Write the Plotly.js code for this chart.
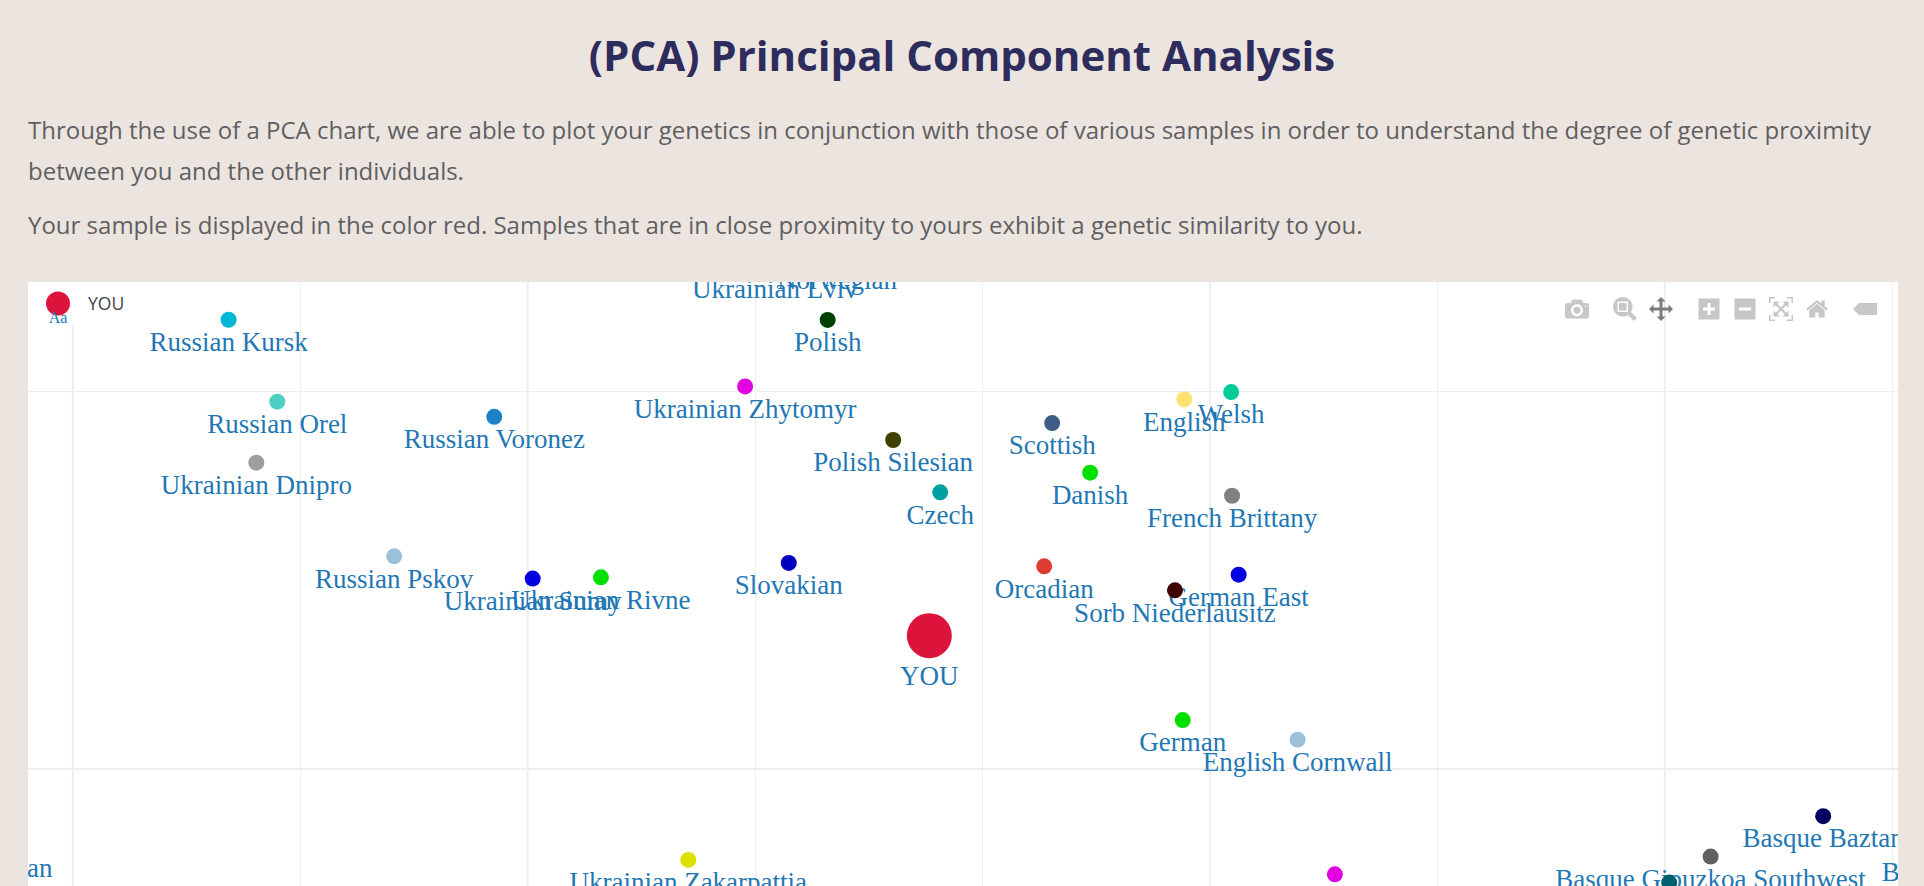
<!DOCTYPE html>
<html>
<head>
<meta charset="utf-8">
<script src="https://cdn.plot.ly/plotly-3.0.1.min.js"></script>
<style>
html,body{margin:0;padding:0;width:1924px;height:886px;overflow:hidden;background:#ece5df;font-family:"Open Sans",sans-serif}
h1{position:absolute;left:0;top:26px;width:1924px;margin:0;text-align:center;font-size:42px;line-height:58px;font-weight:700;color:#2e2c5c}
p{position:absolute;left:28px;width:1870px;margin:0;font-size:24px;line-height:41px;color:#5f5f62}
#p1{top:109px}
#p2{top:204px}
#chart{position:absolute;left:28px;top:282px;width:1870px;height:604px;background:#fff}
.modebar{transform:scale(1.5);transform-origin:top right;top:9px !important;right:15px !important}
</style>
</head>
<body>
<h1>(PCA) Principal Component Analysis</h1>
<p id="p1">Through the use of a PCA chart, we are able to plot your genetics in conjunction with those of various samples in order to understand the degree of genetic proximity between you and the other individuals.</p>
<p id="p2">Your sample is displayed in the color red. Samples that are in close proximity to yours exhibit a genetic similarity to you.</p>
<div id="chart"></div>
<script>
const youName = "YOU";
const youPC1 = -0.00234;
const youPC2 = 0.00706;
const youColor = "#dc143c";

const sampleNames = ["Russian Kursk","Russian Orel","Russian Voronez","Ukrainian Dnipro","Russian Pskov","Ukrainian Sumy","Ukrainian Rivne","Polish","Ukrainian Zhytomyr","Polish Silesian","Czech","Scottish","English","Welsh","Danish","French Brittany","Slovakian","Orcadian","German East","Sorb Niederlausitz","German","English Cornwall","Ukrainian Zakarpattia","Ukrainian Lviv","Norwegian","Lithuanian","Hungarian","Basque Baztan","Basque Gipuzkoa Southwest","Basque Gipuzkoa","Basque Bizkaia"];
const samplePC1 = [-0.03315,-0.03101,-0.02147,-0.03193,-0.02587,-0.01978,-0.01678,-0.00681,-0.01044,-0.00393,-0.00186,0.00306,0.00887,0.01093,0.00473,0.01097,-0.00852,0.00271,0.01126,0.00846,0.00880,0.01385,-0.01294,-0.00913,-0.00640,-0.04346,0.01549,0.03696,0.03201,0.03019,0.04324];
const samplePC2 = [0.02379,0.01945,0.01865,0.01622,0.01126,0.01008,0.01015,0.02378,0.02026,0.01742,0.01465,0.01832,0.01958,0.01996,0.01569,0.01447,0.01091,0.01073,0.01029,0.00946,0.00259,0.00155,-0.00482,0.02660,0.02706,-0.00408,-0.00558,-0.00250,-0.00464,-0.00602,-0.00429];
const sampleColors = ["#00b8d4","#4dd0c4","#1b82c6","#9e9e9e","#9cc0da","#0000e0","#00e000","#004000","#e000e0","#404000","#00a0a0","#3e5c86","#ffe070","#00cc99","#00e000","#808080","#0000c0","#dc3c32","#0000e0","#400000","#00e000","#9cc0da","#e0e000","#808000","#006060","#606000","#e000e0","#000060","#606060","#006070","#404040"];

const boldGridX = [-0.04,-0.02,0.01,0.03];
const boldGridY = [0];
const rangeX = [-0.04197,0.04025];
const rangeY = [-0.00620,0.02579];

const labelFont = {family:'"Liberation Serif","Times New Roman",serif',size:27,color:"#1f77b4"};

const traces = [{
  x:[youPC1],y:[youPC2],text:[youName],name:youName,mode:"markers+text",type:"scatter",
  textposition:"bottom center",textfont:labelFont,marker:{size:45,color:youColor},showlegend:true
}].concat(sampleNames.map((n,i)=>({
  x:[samplePC1[i]],y:[samplePC2[i]],text:[n],name:n,mode:"markers+text",type:"scatter",
  textposition:"bottom center",textfont:labelFont,marker:{size:16,color:sampleColors[i]},showlegend:false
})));

const shapes = boldGridX.map(v=>({type:"line",layer:"below",xref:"x",yref:"paper",x0:v,x1:v,y0:0,y1:1,line:{color:"#eeeeee",width:2}}))
 .concat(boldGridY.map(v=>({type:"line",layer:"below",xref:"paper",yref:"y",x0:0,x1:1,y0:v,y1:v,line:{color:"#eeeeee",width:2}})));

const layout = {
  width:1870,height:604,margin:{l:0,r:0,t:0,b:0},
  paper_bgcolor:"#fff",plot_bgcolor:"#fff",dragmode:"pan",hovermode:false,
  font:{family:'"Open Sans",sans-serif',color:"#444"},
  xaxis:{range:rangeX,tick0:0,dtick:0.01,showticklabels:false,ticks:"",zeroline:false,gridcolor:"#eeeeee",gridwidth:1},
  yaxis:{range:rangeY,tick0:0,dtick:0.02,showticklabels:false,ticks:"",zeroline:false,gridcolor:"#eeeeee",gridwidth:1},
  legend:{x:0,y:1,xanchor:"left",yanchor:"top",bgcolor:"#fff",itemwidth:50,font:{family:'"Open Sans",sans-serif',size:17.5,color:"#444"}},
  showlegend:true,shapes:shapes,
  modebar:{bgcolor:"rgba(0,0,0,0)",color:"rgba(68,68,68,0.3)",activecolor:"rgba(68,68,68,0.7)"}
};

// Legend swatch: bigger marker, "Aa" sample and taller box than the library's defaults.
function tuneLegend(gd){
  const legend = gd.querySelector(".legend");
  if(!legend) return;
  const h = 43;
  const bg = legend.querySelector("rect.bg");
  if(bg){ bg.style.height = h + "px"; bg.setAttribute("height", h); }
  const sb = legend.querySelector(".scrollbox");
  if(sb) sb.removeAttribute("clip-path");
  const tr = legend.querySelector("g.traces");
  if(tr) tr.setAttribute("transform","translate(0,21.5)");
  const pt = legend.querySelector("path.scatterpts");
  if(pt){
    const t = pt.getAttribute("transform")||"";
    if(t.indexOf("scale")<0) pt.setAttribute("transform", t+" scale(1.5)");
    if(!legend.querySelector("text.sample-aa")){
      const a = document.createElementNS("http://www.w3.org/2000/svg","text");
      a.setAttribute("class","sample-aa");
      a.setAttribute("transform", t);
      a.setAttribute("y", 19.5);
      a.setAttribute("text-anchor","middle");
      a.style.fontFamily = labelFont.family;
      a.style.fontSize = "16px";
      a.style.fill = labelFont.color;
      a.textContent = "Aa";
      pt.parentNode.appendChild(a);
    }
  }
}
const gd = document.getElementById("chart");
Plotly.newPlot(gd,traces,layout,{
  displayModeBar:true,displaylogo:false,
  modeBarButtons:[["toImage"],["zoom2d","pan2d"],["zoomIn2d","zoomOut2d","autoScale2d","resetScale2d"],["hoverClosestCartesian"]]
}).then(()=>{ tuneLegend(gd); gd.on("plotly_afterplot",()=>tuneLegend(gd)); });
</script>
</body>
</html>
